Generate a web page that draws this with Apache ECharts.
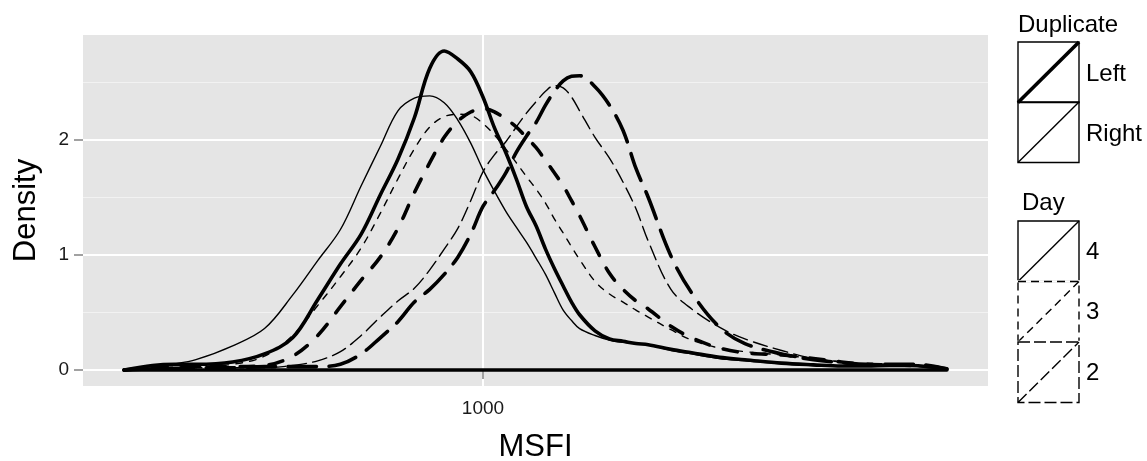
<!DOCTYPE html>
<html><head><meta charset="utf-8">
<script src="https://cdn.jsdelivr.net/npm/echarts@6/dist/echarts.min.js"></script>
<style>html,body{margin:0;padding:0;background:#fff;}#c{width:1147px;height:461px;}</style>
</head><body><div id="c"></div>
<script>
// MSFI grid (x values, log scale)
const msfi = [222,250,275,300,350,400,450,500,550,600,650,700,750,800,850,900,950,1000,1050,1100,1150,1200,1250,1300,1350,1400,1450,1500,1600,1700,1800,1900,2000,2200,2400,2700,3000,3500,4000,4500,5000,5500,6000,6500,7000];
// Density per group
const leftDay4  = [0,0.04,0.05,0.05,0.07,0.14,0.28,0.61,0.92,1.18,1.52,1.83,2.19,2.62,2.77,2.70,2.59,2.37,2.10,1.89,1.66,1.42,1.25,1.05,0.88,0.73,0.59,0.48,0.34,0.27,0.25,0.23,0.22,0.18,0.15,0.11,0.09,0.06,0.045,0.035,0.035,0.04,0.04,0.03,0.01];
const rightDay4 = [0,0.035,0.055,0.09,0.21,0.36,0.65,0.95,1.22,1.60,1.94,2.25,2.36,2.38,2.32,2.17,1.97,1.74,1.55,1.38,1.24,1.11,0.97,0.83,0.67,0.52,0.43,0.36,0.30,0.26,0.24,0.23,0.22,0.17,0.14,0.10,0.08,0.055,0.04,0.035,0.035,0.035,0.035,0.025,0.01];
const leftDay3  = [0,0.02,0.025,0.03,0.03,0.04,0.12,0.30,0.55,0.78,0.98,1.23,1.54,1.80,2.02,2.16,2.24,2.27,2.24,2.18,2.11,2.02,1.93,1.82,1.71,1.60,1.47,1.34,1.07,0.84,0.70,0.60,0.53,0.38,0.28,0.19,0.15,0.13,0.10,0.07,0.05,0.045,0.04,0.03,0.01];
const rightDay3 = [0,0.02,0.025,0.03,0.05,0.12,0.30,0.56,0.81,1.06,1.36,1.66,1.92,2.11,2.20,2.22,2.21,2.14,2.04,1.92,1.80,1.68,1.57,1.45,1.31,1.19,1.07,0.96,0.77,0.66,0.59,0.52,0.46,0.35,0.26,0.19,0.16,0.13,0.10,0.07,0.05,0.04,0.035,0.025,0.01];
const leftDay2  = [0,0.01,0.015,0.02,0.02,0.03,0.03,0.03,0.05,0.14,0.28,0.42,0.59,0.70,0.83,0.98,1.18,1.42,1.56,1.71,1.89,2.03,2.15,2.30,2.42,2.51,2.55,2.555,2.46,2.30,2.08,1.75,1.50,0.99,0.67,0.37,0.23,0.14,0.09,0.065,0.05,0.05,0.05,0.04,0.01];
const rightDay2 = [0,0.01,0.015,0.02,0.02,0.02,0.04,0.08,0.16,0.30,0.46,0.60,0.71,0.87,1.05,1.23,1.47,1.72,1.87,1.98,2.11,2.23,2.33,2.42,2.47,2.45,2.37,2.25,2.02,1.84,1.63,1.40,1.12,0.70,0.53,0.37,0.27,0.17,0.10,0.07,0.05,0.04,0.04,0.03,0.01];
// Tick labels / legend entries
const xTicks = [1000];
const yTicks = [0, 1, 2];
const duplicateLevels = ['Left', 'Right'];
const dayLevels = ['4', '3', '2'];

const FONT = "'Liberation Sans', Arial, Helvetica, sans-serif";
const THICK = 3.6, THIN = 1.4;
// dash arrays (on, off) used with round caps
const DASH3_THIN = [6.6, 7.4], DASH3_THICK = [14.4, 14.6];
const DASH2_THIN = [14.6, 6.4], DASH2_THICK = [28.4, 12.6];

const groups = [
  {name: 'Left 4', d: leftDay4, w: THICK, t: 'solid'},
  {name: 'Right 4', d: rightDay4, w: THIN, t: 'solid'},
  {name: 'Left 3', d: leftDay3, w: THICK, t: DASH3_THICK},
  {name: 'Right 3', d: rightDay3, w: THIN, t: DASH3_THIN},
  {name: 'Left 2', d: leftDay2, w: THICK, t: DASH2_THICK},
  {name: 'Right 2', d: rightDay2, w: THIN, t: DASH2_THIN}
];

const lo = Math.log10(msfi[0]), hi = Math.log10(msfi[msfi.length - 1]);
const pad = (hi - lo) * 0.05;
const xMin = Math.pow(10, lo - pad), xMax = Math.pow(10, hi + pad);
let yPeak = 0; groups.forEach(g => g.d.forEach(v => { if (v > yPeak) yPeak = v; }));
const yMin = -0.05 * yPeak, yMax = 1.05 * yPeak;

const series = groups.map(g => ({
  name: g.name, type: 'line', symbol: 'none', smooth: 0.35,
  data: msfi.map((x, i) => [x, g.d[i]]),
  lineStyle: {color: '#000', width: g.w, type: g.t, cap: 'round', join: 'round'},
  silent: true, z: 3
}));
series.push({
  name: 'baseline', type: 'line', symbol: 'none',
  data: [[msfi[0], 0], [msfi[msfi.length - 1], 0]],
  lineStyle: {color: '#000', width: THICK, cap: 'round'}, silent: true, z: 4
});

// legend graphics
const L = 1018, R = 1079, txtX = 1086;
const g = [];
g.push({type: 'text', style: {text: 'Duplicate', x: L, y: 25, font: '24px ' + FONT, fill: '#000', verticalAlign: 'middle'}});
const dupTop = [42, 102];
duplicateLevels.forEach((lab, i) => {
  const t = dupTop[i], b = dupTop[i] + 60.5;
  g.push({type: 'rect', shape: {x: L, y: t, width: R - L, height: b - t}, style: {fill: 'none', stroke: '#000', lineWidth: 1.4}});
  g.push({type: 'line', shape: {x1: L, y1: b, x2: R, y2: t}, style: {stroke: '#000', lineWidth: i === 0 ? THICK : THIN}});
  g.push({type: 'text', style: {text: lab, x: txtX, y: (t + b) / 2 + 2, font: '24px ' + FONT, fill: '#000', verticalAlign: 'middle'}});
});
g.push({type: 'text', style: {text: 'Day', x: L + 4, y: 203, font: '24px ' + FONT, fill: '#000', verticalAlign: 'middle'}});
const dayTop = [221, 281.5, 342];
const dayDash = [null, [8, 5], [12, 4]];
dayLevels.forEach((lab, i) => {
  const t = dayTop[i], b = dayTop[i] + 60.5;
  const dash = dayDash[i];
  if (i > 0) g.push({type: 'line', shape: {x1: L - 1, y1: t, x2: R + 1, y2: t}, style: {stroke: '#fff', lineWidth: 2.4}});
  g.push({type: 'rect', shape: {x: L, y: t, width: R - L, height: b - t}, style: {fill: 'none', stroke: '#000', lineWidth: 1.4, lineDash: dash}});
  g.push({type: 'line', shape: {x1: L, y1: b, x2: R, y2: t}, style: {stroke: '#000', lineWidth: 1.4, lineDash: dash}});
  g.push({type: 'text', style: {text: lab, x: txtX, y: (t + b) / 2 + 1, font: '24px ' + FONT, fill: '#000', verticalAlign: 'middle'}});
});

const chart = echarts.init(document.getElementById('c'), null, {renderer: 'canvas'});
chart.setOption({
  animation: false,
  backgroundColor: '#fff',
  grid: {left: 83, right: 159, top: 35, bottom: 75, show: true, backgroundColor: '#E5E5E5', borderWidth: 0,
    containLabel: false, outerBoundsMode: 'none'},
  xAxis: {
    type: 'log', logBase: 10, min: xMin, max: xMax,
    name: 'MSFI', nameLocation: 'middle', nameGap: 46,
    nameTextStyle: {fontSize: 31, color: '#000', fontFamily: FONT},
    axisLine: {show: false},
    axisTick: {show: true, length: 9, customValues: xTicks, lineStyle: {color: '#8A8A8A', width: 1.6}},
    axisLabel: {customValues: xTicks, fontSize: 19, color: '#1A1A1A', fontFamily: FONT, margin: 13,
      formatter: v => String(Math.round(v))},
    splitLine: {show: true, lineStyle: {color: '#fff', width: 2}},
    minorSplitLine: {show: false}
  },
  yAxis: {
    type: 'value', min: yMin, max: yMax, splitNumber: 3,
    name: 'Density', nameLocation: 'middle', nameGap: 41,
    nameTextStyle: {fontSize: 31, color: '#000', fontFamily: FONT},
    axisLine: {show: false},
    axisTick: {show: true, length: 9, customValues: yTicks, lineStyle: {color: '#8A8A8A', width: 1.6}},
    axisLabel: {customValues: yTicks, fontSize: 19, color: '#1A1A1A', fontFamily: FONT, margin: 14,
      formatter: v => String(Math.round(v))},
    splitLine: {show: true, lineStyle: {color: '#fff', width: 2}},
    minorTick: {show: false, splitNumber: 2},
    minorSplitLine: {show: true, lineStyle: {color: '#F2F2F2', width: 1.2}}
  },
  series: series,
  graphic: g
});
</script></body></html>
